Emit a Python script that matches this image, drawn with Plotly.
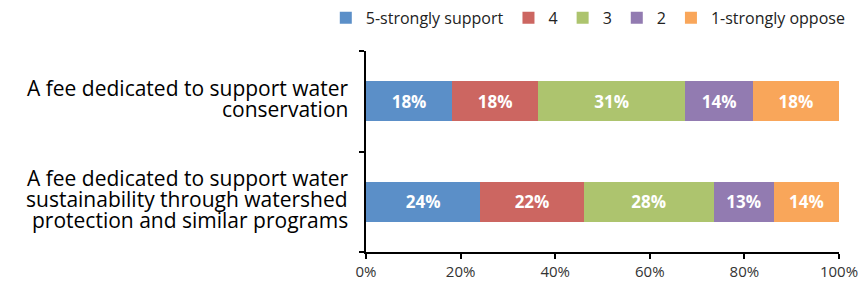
import plotly.graph_objects as go

categories = [
    "A fee dedicated to support water<br>conservation",
    "A fee dedicated to support water<br>sustainability through watershed<br>protection and similar programs",
]
series_names = ["5-strongly support", "4", "3", "2", "1-strongly oppose"]
values = {
    "5-strongly support": [18.2, 24.2],
    "4": [18.2, 21.8],
    "3": [31.1, 27.5],
    "2": [14.3, 12.7],
    "1-strongly oppose": [18.2, 13.8],
}
colors = ["#5B8FC8", "#CC6661", "#ADC46E", "#927BB1", "#F9A65A"]
x_ticks = [0, 20, 40, 60, 80, 100]
x_tick_labels = ["0%", "20%", "40%", "60%", "80%", "100%"]

FONT = "Open Sans, sans-serif"
LINE_GAP = 21

fig = go.Figure()
for name, col in zip(series_names, colors):
    fig.add_trace(go.Bar(
        y=categories, x=values[name], name=name, orientation="h",
        marker=dict(color=col, line=dict(width=0)),
        texttemplate="%{x:.0f}%", textposition="inside", insidetextanchor="middle",
        textfont=dict(color="white", size=17, family=FONT, weight="bold"),
        constraintext="none",
        hoverinfo="x+name",
    ))

# category labels, one annotation per line for tight (Excel-like) line spacing
for cat in categories:
    lines = cat.split("<br>")
    n = len(lines)
    for j, line in enumerate(lines):
        fig.add_annotation(
            x=0, xref="paper", y=cat, yref="y",
            text=line, showarrow=False,
            xanchor="right", yanchor="middle", xshift=-16,
            yshift=((n - 1) / 2 - j) * LINE_GAP + 3,
            font=dict(size=21, family=FONT, color="#000000"),
        )

fig.update_layout(
    barmode="stack",
    width=865, height=290,
    margin=dict(l=366, r=26, t=51, b=38, autoexpand=False),
    paper_bgcolor="white", plot_bgcolor="white",
    bargap=0.6,
    font=dict(family=FONT, color="#000000"),
    legend=dict(
        orientation="h", xref="paper", yref="paper",
        x=-0.085, y=1.25, xanchor="left", yanchor="top",
        font=dict(size=16, family=FONT, color="#222222"), traceorder="normal",
        itemwidth=30, tracegroupgap=0,
    ),
)
fig.update_xaxes(
    range=[0, 100], tickmode="array", tickvals=x_ticks, ticktext=x_tick_labels,
    showgrid=False, zeroline=False, automargin=False,
    showline=True, linecolor="black", linewidth=1.5,
    ticks="outside", ticklen=5, tickcolor="black", tickwidth=1.5,
    tickfont=dict(size=15, family=FONT, color="#333333"),
)
fig.update_yaxes(
    categoryorder="array", categoryarray=categories[::-1],
    showgrid=False, zeroline=False, showticklabels=False, automargin=False,
    showline=True, linecolor="black", linewidth=1.5,
    ticks="outside", ticklen=5, tickcolor="black", tickwidth=1.5,
    tickson="boundaries",
)

fig.write_html("out.html", config={"displayModeBar": False},
               post_script="document.body.style.margin='0';")
